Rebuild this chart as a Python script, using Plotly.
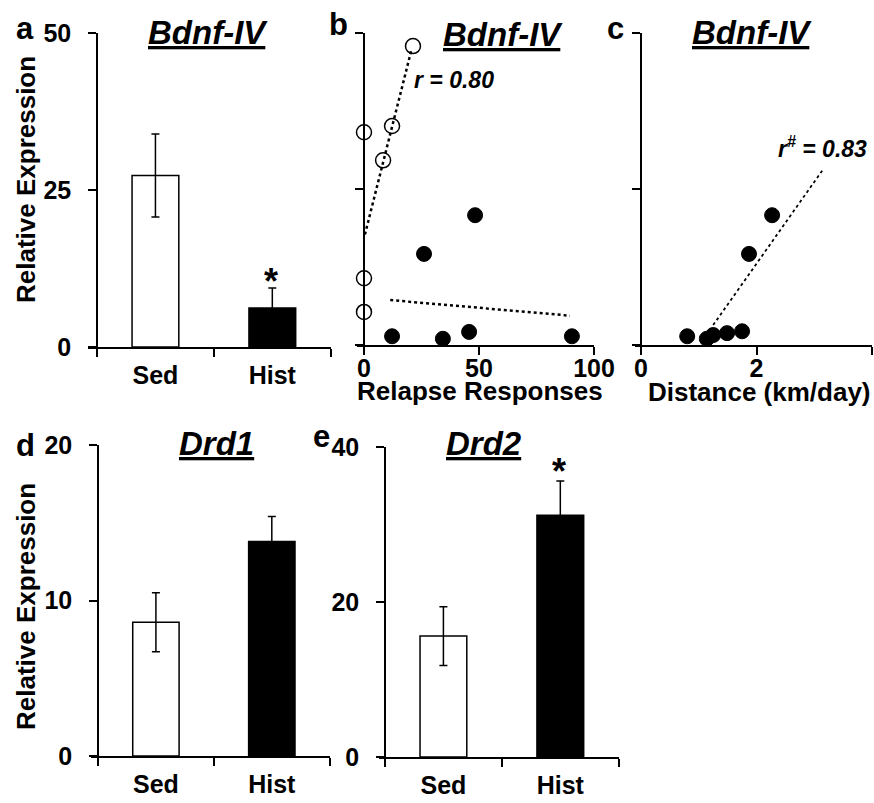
import plotly.graph_objects as go

W, H = 874, 803
FONT = "Liberation Sans, Arial, sans-serif"


def X(p):
    return p / W


def Y(p):
    return 1 - p / H


# ---------------- data ----------------
groups = ["Sed", "Hist"]
bdnf_mean = [27.3, 6.2]
bdnf_sem = [6.6, 3.2]
drd1_mean = [8.6, 13.8]
drd1_sem = [1.9, 1.6]
drd2_mean = [15.6, 31.2]
drd2_sem = [3.8, 4.4]

relapse_sed_x = [21.3, 12.2, 8.3, 0, 0, 0]
relapse_sed_y = [47.9, 35.1, 29.6, 34.1, 10.7, 5.3]
relapse_hist_x = [48.3, 26.1, 12.2, 34.3, 45.7, 90.4]
relapse_hist_y = [20.8, 14.6, 1.4, 1.0, 2.1, 1.4]
distance_x = [0.80, 1.14, 1.25, 1.49, 1.75, 1.87, 2.27]
distance_y = [1.4, 1.0, 1.6, 1.9, 2.2, 14.6, 20.8]

trend_sed_x = [0.4, 20.5]
trend_sed_y = [17.7, 47.1]
trend_hist_x = [11.4, 89.5]
trend_hist_y = [7.2, 4.7]
trend_dist_x = [1.25, 3.15]
trend_dist_y = [3.2, 28.1]

bdnf_ticks = [0, 25, 50]
drd1_ticks = [0, 10, 20]
drd2_ticks = [0, 20, 40]
relapse_ticks = [0, 50, 100]
distance_ticks = [0, 2, 4]

# ---------------- figure ----------------
fig = go.Figure()

err = dict(type="data", color="black", thickness=1.5, width=4)
bar_marker = dict(color=["white", "black"], line=dict(color="black", width=1.5))

fig.add_trace(go.Bar(x=groups, y=bdnf_mean, width=0.4, marker=bar_marker,
                     error_y=dict(err, array=bdnf_sem), xaxis="x", yaxis="y"))
fig.add_trace(go.Bar(x=groups, y=drd1_mean, width=0.4, marker=bar_marker,
                     error_y=dict(err, array=drd1_sem), xaxis="x4", yaxis="y4"))
fig.add_trace(go.Bar(x=groups, y=drd2_mean, width=0.4, marker=bar_marker,
                     error_y=dict(err, array=drd2_sem), xaxis="x5", yaxis="y5"))

# panel b
fig.add_trace(go.Scatter(x=relapse_sed_x, y=relapse_sed_y, mode="markers",
                         marker=dict(size=15, color="white", line=dict(color="black", width=1.5)),
                         cliponaxis=False, xaxis="x2", yaxis="y2"))
fig.add_trace(go.Scatter(x=relapse_hist_x, y=relapse_hist_y, mode="markers",
                         marker=dict(size=15, color="black", line=dict(color="black", width=1)),
                         cliponaxis=False, xaxis="x2", yaxis="y2"))
fig.add_trace(go.Scatter(x=trend_sed_x, y=trend_sed_y, mode="lines",
                         line=dict(color="black", width=2.5, dash="dot"),
                         cliponaxis=False, xaxis="x2", yaxis="y2"))
fig.add_trace(go.Scatter(x=trend_hist_x, y=trend_hist_y, mode="lines",
                         line=dict(color="black", width=2.5, dash="dot"),
                         cliponaxis=False, xaxis="x2", yaxis="y2"))

# panel c
fig.add_trace(go.Scatter(x=distance_x, y=distance_y, mode="markers",
                         marker=dict(size=15, color="black", line=dict(color="black", width=1)),
                         cliponaxis=False, xaxis="x3", yaxis="y3"))
fig.add_trace(go.Scatter(x=trend_dist_x, y=trend_dist_y, mode="lines",
                         line=dict(color="black", width=1.8, dash="dot"),
                         cliponaxis=False, xaxis="x3", yaxis="y3"))

tickfont = dict(family=FONT, size=25, color="black", weight="bold")
base = dict(showline=True, linecolor="black", linewidth=1.5, ticks="outside",
            ticklen=8, tickwidth=1.5, tickcolor="black", showgrid=False,
            zeroline=False, tickfont=tickfont, fixedrange=True, automargin=False)


def xcat(d0, d1, r0, anchor):
    return dict(base, type="category", domain=[X(d0), X(d1)], range=[r0, 1.502],
                tickson="boundaries", anchor=anchor, ticklabelstandoff=5)


def ylin(top, bottom, rng, ticks, pos, labels=True):
    return dict(base, domain=[Y(bottom), Y(top)], range=rng, tickvals=ticks,
                anchor="free", position=X(pos), showticklabels=labels,
                ticklabelstandoff=12)


def xlin(d0, d1, rng, ticks, anchor):
    return dict(base, domain=[X(d0), X(d1)], range=rng, tickvals=ticks,
                anchor=anchor, ticklabelstandoff=-8)


fig.update_layout(
    width=W, height=H, autosize=False,
    margin=dict(l=0, r=0, t=0, b=0, autoexpand=False),
    paper_bgcolor="white", plot_bgcolor="white",
    showlegend=False,
    font=dict(family=FONT, color="black"),
    xaxis=xcat(88, 331, -0.577, "y"),
    yaxis=ylin(33, 347, [0, 50], bdnf_ticks, 97),
    xaxis2=xlin(357, 594, [-3.04, 100], relapse_ticks, "y2"),
    yaxis2=ylin(33, 345, [0, 50], bdnf_ticks, 364, labels=False),
    xaxis3=xlin(635, 872, [-0.104, 4], distance_ticks, "y3"),
    yaxis3=ylin(33, 345, [0, 50], bdnf_ticks, 641, labels=False),
    xaxis4=xcat(91, 330, -0.56, "y4"),
    yaxis4=ylin(445, 756, [0, 20], drd1_ticks, 98),
    xaxis5=xcat(379, 619, -0.551, "y5"),
    yaxis5=ylin(447, 757, [0, 40], drd2_ticks, 385),
)


def ann(text, x, y, size, angle=0, xanchor="center"):
    fig.add_annotation(text=text, x=X(x), y=Y(y), xref="paper", yref="paper",
                       showarrow=False, textangle=angle, xanchor=xanchor,
                       yanchor="middle",
                       font=dict(family=FONT, size=size, color="black", weight="bold"))


# panel letters
ann("a", 25, 28, 31)
ann("b", 338, 24, 31)
ann("c", 615, 28, 31)
ann("d", 25, 445, 31)
ann("e", 321, 437, 31)

# titles
title_b = "<b><i><u>Bdnf-IV</u></i></b>"
ann(title_b, 208, 33, 33)
ann(title_b, 503, 35, 33)
ann(title_b, 752, 33, 33)
ann("<b><i><u>Drd1</u></i></b>", 216, 443, 33)
ann("<b><i><u>Drd2</u></i></b>", 484, 443, 33)

# axis titles
ann("Relative Expression", 26, 180, 26, angle=-90)
ann("Relative Expression", 26, 607, 26, angle=-90)
ann("Relapse Responses", 480, 391, 26)
ann("Distance (km/day)", 759, 392, 26)

# correlation labels
ann("<i>r = 0.80</i>", 454, 80, 23)
ann("<i>r<sup>#</sup> = 0.83</i>", 822, 147, 23)

# significance
ann("*", 271, 281, 36)
ann("*", 559, 471, 36)

fig.write_html("out.html", config={"displayModeBar": False},
               post_script="document.body.style.margin='0';")
